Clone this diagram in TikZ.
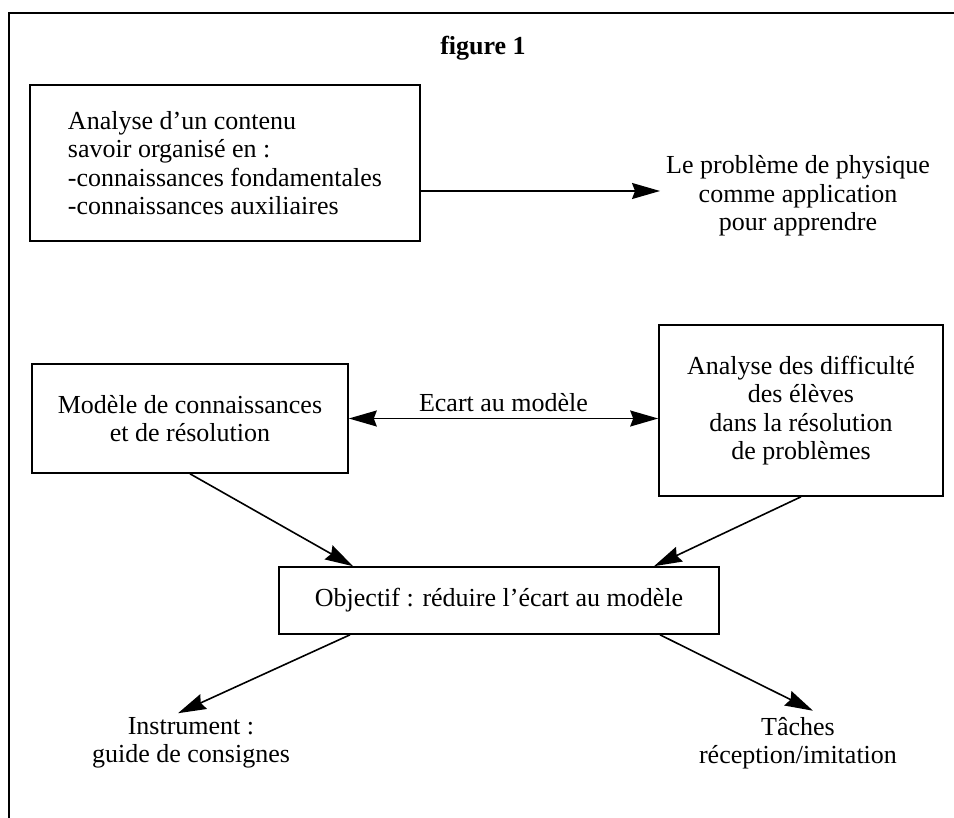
\documentclass[tikz,border=0pt]{standalone}
\usepackage{fontspec}
\setmainfont{Liberation Serif}
\usetikzlibrary{arrows.meta}
\begin{document}
\begin{tikzpicture}[x=1pt,y=-1pt,
  every node/.style={font=\fontsize{26}{28.5}\selectfont, inner sep=0pt},
  box/.style={draw, line width=1.6pt, align=center},
  tip/.tip={Stealth[length=28pt,width=16pt,inset=3pt]},
  conn/.style={line width=1.6pt, -tip},
  lbl/.style={align=center}]
\useasboundingbox (0,0) rectangle (954,818);
\draw[line width=1.8pt] (9,818) -- (9,13) -- (954,13);
\node[font=\fontsize{26}{28.5}\selectfont\bfseries] (title) at (483,48) {figure 1};
\node[box, align=left, minimum width=390pt, minimum height=156pt] (contenu) at (225,163)
  {Analyse d’un contenu\\savoir organisé en :\\-connaissances fondamentales\\-connaissances auxiliaires};
\node[lbl, inner xsep=6pt] (physique) at (798,196) {Le problème de physique\\comme application\\pour apprendre};
\coordinate (physin) at ([yshift=5pt]physique.west);
\draw[conn] (contenu.east |- physin) -- (physin);
\node[box, minimum width=316pt, minimum height=109pt] (modele) at (190,418.5) {Modèle de connaissances\\et de résolution};
\node[box, minimum width=284pt, minimum height=171pt] (difficultes) at (801,410.5) {Analyse des difficulté\\des élèves\\dans la résolution\\de problèmes};
\draw[line width=1.6pt, tip-tip] (modele.east) -- (modele.east -| difficultes.west)
  node[midway, above=6pt] (ecart) {Ecart au modèle};
\node[box, minimum width=440pt, minimum height=67pt] (objectif) at (499,600.5) {Objectif : réduire l’écart au modèle};
\draw[conn] (modele.south) -- ([xshift=-146pt]objectif.north);
\draw[conn] (difficultes.south) -- ([xshift=155pt]objectif.north);
\node[lbl] (instrument) at (191,743) {Instrument :\\guide de consignes};
\node[lbl] (taches) at (798,743) {Tâches\\réception/imitation};
\draw[conn] ([xshift=-149pt]objectif.south) -- ([xshift=-13pt,yshift=4pt]instrument.north);
\draw[conn] ([xshift=161pt]objectif.south) -- ([xshift=15pt,yshift=6pt]taches.north);
\end{tikzpicture}
\end{document}
